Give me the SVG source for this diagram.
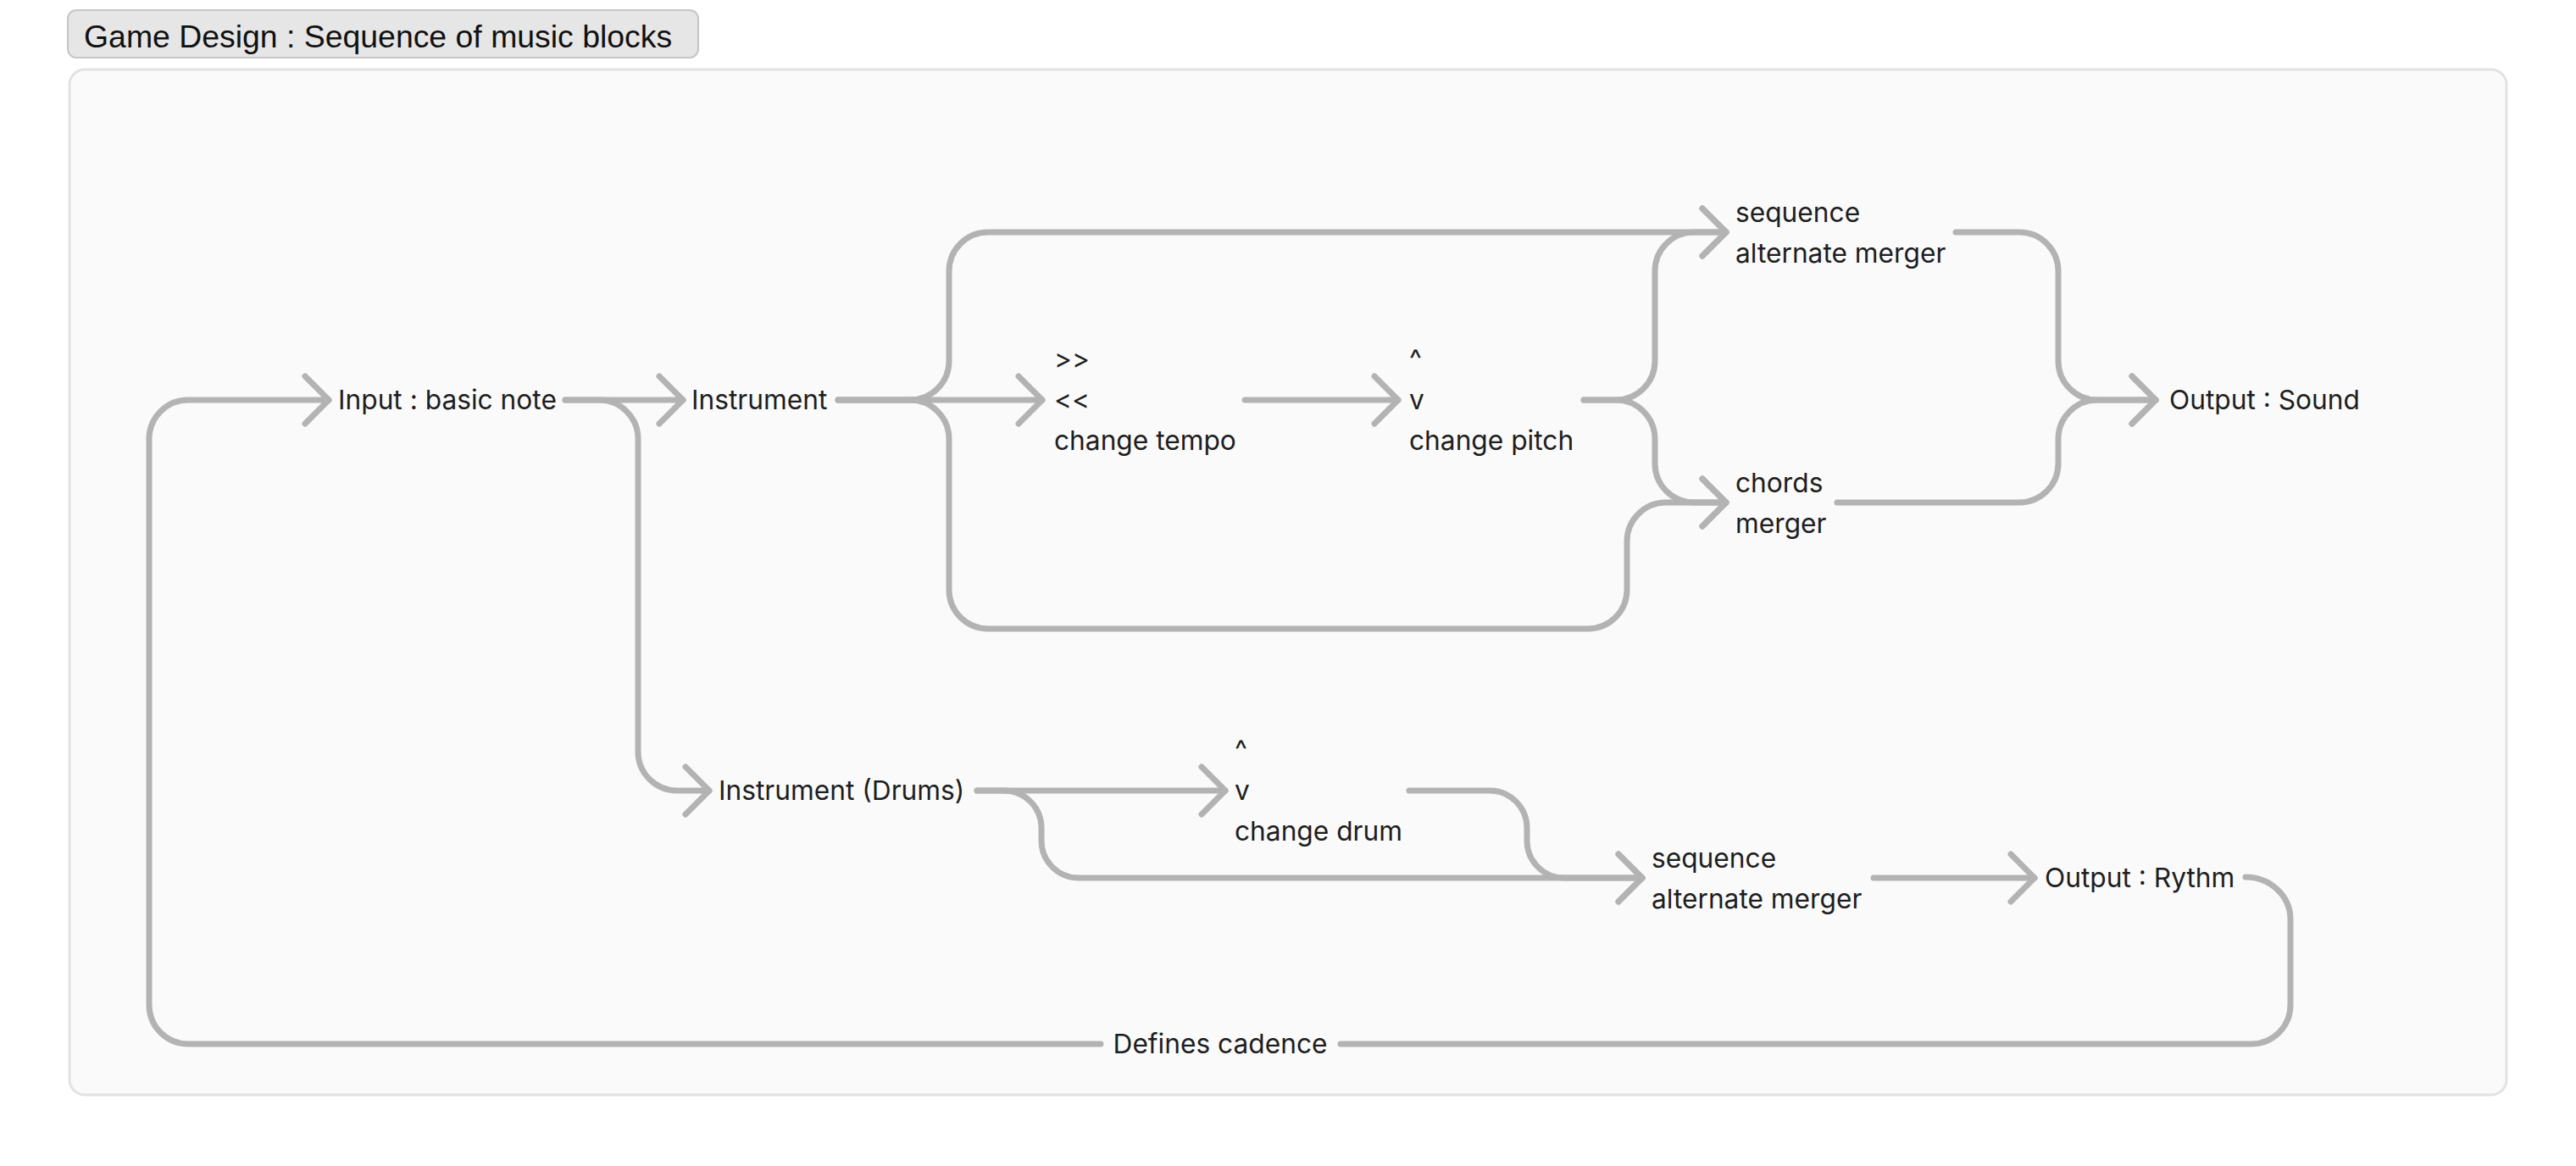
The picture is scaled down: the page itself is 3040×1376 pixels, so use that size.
<svg xmlns="http://www.w3.org/2000/svg" width="3040" height="1376" viewBox="0 0 3040 1376">
<defs>
<style>
.lbl{font-family:Inter,"Noto Sans","Liberation Sans",sans-serif;font-size:31.7px;fill:#1e1e1e}
.ttl{font-family:"Liberation Sans",Arial,sans-serif;font-size:37.4px;fill:#111}
.c{fill:none;stroke:#b3b3b3;stroke-width:7;stroke-linecap:round;stroke-linejoin:round}
</style>
<marker id="ah" markerUnits="userSpaceOnUse" markerWidth="80" markerHeight="80" refX="0" refY="0" viewBox="-40 -40 80 80" orient="auto" overflow="visible">
<path d="M -28 -28 L 0 0 L -28 28" fill="none" stroke="#b3b3b3" stroke-width="7" stroke-linecap="round" stroke-linejoin="round"/>
</marker>
</defs>
<rect width="3040" height="1376" fill="#ffffff"/>
<g id="title">
<rect x="80" y="12" width="744" height="56" rx="10" fill="#e6e6e6" stroke="#c6c6c6" stroke-width="2"/>
<text class="ttl" x="99" y="56">Game Design : Sequence of music blocks</text>
</g>
<rect id="frame" x="82" y="82" width="2876" height="1210" rx="18" fill="#fafafa" stroke="#e2e2e2" stroke-width="3"/>
<g id="connectors">
<path class="c" d="M 2650 1035 A 53 50 0 0 1 2703 1085 V 1186 A 46 46 0 0 1 2657 1232 H 1582"/>
<path class="c" marker-end="url(#ah)" d="M 1299 1232 H 222 A 46 46 0 0 1 176 1186 V 518 A 46 46 0 0 1 222 472 H 388"/>
<path class="c" marker-end="url(#ah)" d="M 667 472 H 806"/>
<path class="c" marker-end="url(#ah)" d="M 667 472 H 707 A 46 46 0 0 1 753 518 V 887 A 46 46 0 0 0 799 933 H 837"/>
<path class="c" marker-end="url(#ah)" d="M 989 472 H 1230"/>
<path class="c" marker-end="url(#ah)" d="M 989 472 H 1074 A 46 46 0 0 0 1120 426 V 320 A 46 46 0 0 1 1166 274 H 2037"/>
<path class="c" marker-end="url(#ah)" d="M 989 472 H 1074 A 46 46 0 0 1 1120 518 V 696 A 46 46 0 0 0 1166 742 H 1874 A 46 46 0 0 0 1920 696 V 639 A 46 46 0 0 1 1966 593 H 2037"/>
<path class="c" marker-end="url(#ah)" d="M 1469 472 H 1650"/>
<path class="c" marker-end="url(#ah)" d="M 1869 472 H 1907 A 46 46 0 0 0 1953 426 V 320 A 46 46 0 0 1 1999 274 H 2037"/>
<path class="c" marker-end="url(#ah)" d="M 1869 472 H 1907 A 46 46 0 0 1 1953 518 V 547 A 46 46 0 0 0 1999 593 H 2037"/>
<path class="c" marker-end="url(#ah)" d="M 2308 274 H 2383 A 46 46 0 0 1 2429 320 V 426 A 46 46 0 0 0 2475 472 H 2544"/>
<path class="c" marker-end="url(#ah)" d="M 2168 593 H 2383 A 46 46 0 0 0 2429 547 V 518 A 46 46 0 0 1 2475 472 H 2544"/>
<path class="c" marker-end="url(#ah)" d="M 1153 933 H 1446"/>
<path class="c" marker-end="url(#ah)" d="M 1153 933 H 1185 A 44 44 0 0 1 1229 977 V 992 A 44 44 0 0 0 1273 1036 H 1938"/>
<path class="c" marker-end="url(#ah)" d="M 1663 933 H 1758 A 44 44 0 0 1 1802 977 V 992 A 44 44 0 0 0 1846 1036 H 1938"/>
<path class="c" marker-end="url(#ah)" d="M 2211 1036 H 2401"/>
<text class="lbl" x="1440" y="1243" text-anchor="middle">Defines cadence</text>
</g>
<g id="input"><text class="lbl" x="399" y="483">Input : basic note</text></g>
<g id="instrument"><text class="lbl" x="816" y="483">Instrument</text></g>
<g id="tempo"><text class="lbl" x="1244" y="435">&gt;&gt;</text><text class="lbl" x="1244" y="483">&lt;&lt;</text><text class="lbl" x="1244" y="531">change tempo</text></g>
<g id="pitch"><text class="lbl" x="1663" y="435">^</text><text class="lbl" x="1663" y="483">v</text><text class="lbl" x="1663" y="531">change pitch</text></g>
<g id="seqmerger"><text class="lbl" x="2048" y="262">sequence</text><text class="lbl" x="2048" y="310">alternate merger</text></g>
<g id="chords"><text class="lbl" x="2048" y="581">chords</text><text class="lbl" x="2048" y="629">merger</text></g>
<g id="outsound"><text class="lbl" x="2560" y="483">Output : Sound</text></g>
<g id="drums"><text class="lbl" x="848" y="944">Instrument (Drums)</text></g>
<g id="changedrum"><text class="lbl" x="1457" y="896">^</text><text class="lbl" x="1457" y="944">v</text><text class="lbl" x="1457" y="992">change drum</text></g>
<g id="drumseq"><text class="lbl" x="1949" y="1024">sequence</text><text class="lbl" x="1949" y="1072">alternate merger</text></g>
<g id="outrythm"><text class="lbl" x="2413" y="1047">Output : Rythm</text></g>
</svg>
